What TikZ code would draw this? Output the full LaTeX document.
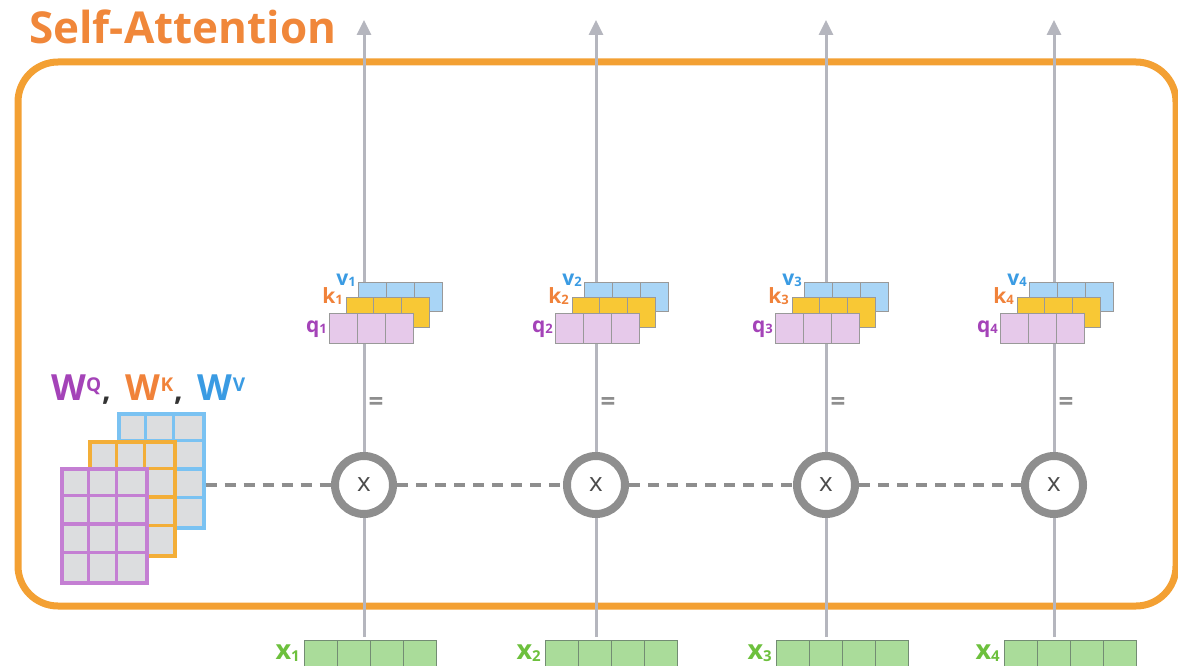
\documentclass[tikz,border=0pt]{standalone}
\usepackage{fontspec}
\setmainfont{Open Sans}
\usetikzlibrary{arrows.meta}
\definecolor{boxorange}{HTML}{F3A033}
\definecolor{titleorange}{HTML}{F0873A}
\definecolor{arrowgray}{HTML}{B5B6BE}
\definecolor{circgray}{HTML}{8E8E8E}
\definecolor{cellgray}{HTML}{DCDDDF}
\definecolor{qfill}{HTML}{E6C9EA}
\definecolor{kfill}{HTML}{F8C835}
\definecolor{vfill}{HTML}{A9D5F6}
\definecolor{xfill}{HTML}{AADC9A}
\definecolor{qcol}{HTML}{A443B8}
\definecolor{kcol}{HTML}{F0823A}
\definecolor{vcol}{HTML}{3A9BE3}
\definecolor{xcol}{HTML}{6DC03D}
\definecolor{mq}{HTML}{C47FD3}
\definecolor{mk}{HTML}{F3AE38}
\definecolor{mv}{HTML}{7AC2F2}
\newcommand{\lbl}[3]{\textcolor{#1}{\fontsize{21}{21}\selectfont\bfseries #2\raisebox{-1.5pt}{\fontsize{13}{13}\selectfont #3}}}
\newcommand{\xlbl}[1]{\textcolor{xcol}{\fontsize{27}{27}\selectfont\bfseries x\raisebox{-2pt}{\fontsize{15}{15}\selectfont #1}}}
\newcommand{\wlbl}[2]{\textcolor{#1}{\fontsize{36}{36}\selectfont\bfseries W\raisebox{9pt}{\fontsize{19}{19}\selectfont #2}}}
\newcommand{\wcomma}{\hspace{1pt}\textcolor{black!80}{\fontsize{30}{30}\selectfont\bfseries ,\hspace{15pt}}}
\begin{document}
\begin{tikzpicture}[x=1pt,y=-1pt,
  cell/.style={draw=gray!80, line width=0.8pt},
  xcell/.style={draw=gray!90!green, line width=0.9pt, fill=xfill},
  uparrow/.style={draw=arrowgray, line width=3pt, -{Triangle[width=14pt,length=15pt]}},
  mulcirc/.style={circle, draw=circgray, line width=8pt, fill=white, minimum size=58pt, inner sep=0pt, text=black!70, font=\fontsize{26}{26}\selectfont},
  dashline/.style={draw=circgray, line width=4pt, dash pattern=on 11pt off 8pt},
  eqsign/.style={text=circgray, font=\bfseries\fontsize{26}{26}\selectfont, inner sep=0pt}
]
\useasboundingbox (0,0) rectangle (1178,666);

% orange frame
\draw[boxorange, line width=7pt, rounded corners=40pt] (18,62) rectangle (1176,606);
\node[anchor=base west, text=titleorange, font=\bfseries\fontsize{44}{44}\selectfont, inner sep=0pt] (title) at (29,44) {Self-Attention};

% weight matrices
\foreach \mx/\my/\mc/\nm in {117/412/mv/Wv, 88/440/mk/Wk, 60/467/mq/Wq}{
  \node[draw=\mc, line width=3.5pt, fill=cellgray, minimum width=85pt, minimum height=114pt, inner sep=0pt, anchor=north west] (\nm) at (\mx,\my) {};
  \foreach \i in {1,2}{ \draw[\mc, line width=3.5pt] (\mx+\i*28.33,\my) -- (\mx+\i*28.33,\my+114); }
  \foreach \j in {1,2,3}{ \draw[\mc, line width=3.5pt] (\mx,\my+\j*28.5) -- (\mx+85,\my+\j*28.5); }
}
\node[anchor=base west, inner sep=0pt] (wlabel) at (51,400) {\wlbl{qcol}{Q}\wcomma\wlbl{kcol}{K}\wcomma\wlbl{vcol}{V}};

% columns
\foreach \n/\cx/\qx/\bx in {1/364/329/304, 2/596/555/545, 3/826/775/776, 4/1054/1000/1004}{
  % input x
  \node[xcell, minimum width=132pt, minimum height=30pt, inner sep=0pt, anchor=north west] (x\n) at (\bx,640) {};
  \foreach \i in {1,2,3}{ \draw[gray!90!green, line width=0.9pt] (\bx+\i*33,640) -- (\bx+\i*33,670); }
  \node[anchor=base east, inner sep=0pt] (xl\n) at (\bx-4,659) {\xlbl{\n}};
  % arrow
  \coordinate (top\n) at (\cx,20);
  \coordinate (bot\n) at (\cx,637);
  \draw[uparrow] (bot\n) -- (top\n);
  % v k q stacks
  \node[cell, fill=vfill, minimum width=84pt, minimum height=29pt, inner sep=0pt, anchor=north west] (v\n) at (\qx+29,282) {};
  \foreach \i in {1,2}{ \draw[gray!80, line width=0.8pt] (\qx+29+\i*28,282) -- (\qx+29+\i*28,311); }
  \node[cell, fill=kfill, minimum width=83pt, minimum height=30pt, inner sep=0pt, anchor=north west] (k\n) at (\qx+17,297) {};
  \foreach \i in {1,2}{ \draw[gray!80, line width=0.8pt] (\qx+17+\i*27.7,297) -- (\qx+17+\i*27.7,327); }
  \node[cell, fill=qfill, minimum width=84pt, minimum height=30pt, inner sep=0pt, anchor=north west] (q\n) at (\qx,313) {};
  \foreach \i in {1,2}{ \draw[gray!80, line width=0.8pt] (\qx+\i*28,313) -- (\qx+\i*28,343); }
  \node[anchor=base east, inner sep=0pt] (vl\n) at (\qx+27,285) {\lbl{vcol}{v}{\n}};
  \node[anchor=base east, inner sep=0pt] (kl\n) at (\qx+14,303) {\lbl{kcol}{k}{\n}};
  \node[anchor=base east, inner sep=0pt] (ql\n) at (\qx-2,332) {\lbl{qcol}{q}{\n}};
  % equals and multiply
  \node[eqsign] (eq\n) at (\cx+12,404) {=};
  \node[mulcirc] (c\n) at (\cx,485) {x};
}

% dashed connectors
\draw[dashline] (Wv.east |- c1) -- (c1);
\draw[dashline] (c1) -- (c2);
\draw[dashline] (c2) -- (c3);
\draw[dashline] (c3) -- (c4);
\end{tikzpicture}
\end{document}
